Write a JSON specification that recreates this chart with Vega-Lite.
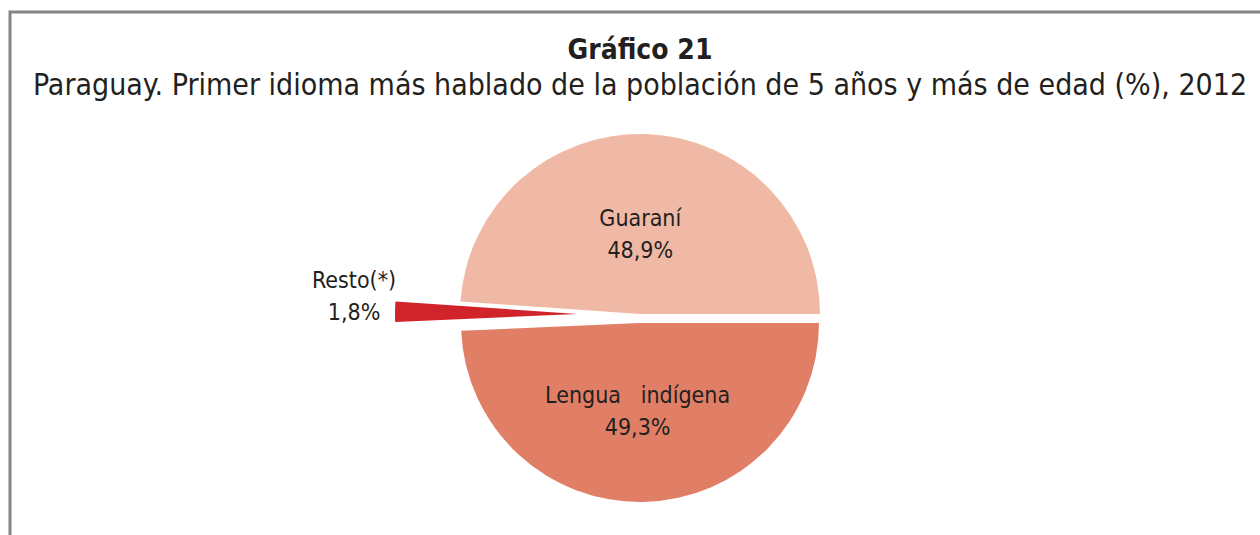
{
  "$schema": "https://vega.github.io/schema/vega-lite/v6.json",
  "autosize": "none",
  "width": 1260,
  "height": 612,
  "padding": {"left": 10, "top": 12, "right": 0, "bottom": 0},
  "background": "white",
  "view": {"stroke": "#858585", "strokeWidth": 3, "fill": "white"},
  "title": {
    "text": "Gráfico 21",
    "subtitle": "Paraguay. Primer idioma más hablado de la población de 5 años y más de edad (%), 2012",
    "anchor": "middle",
    "orient": "top",
    "frame": "group",
    "offset": -113,
    "font": "DejaVu Sans Condensed, DejaVu Sans",
    "fontSize": 28,
    "fontWeight": "bold",
    "color": "#231f20",
    "subtitleFont": "DejaVu Sans Condensed, DejaVu Sans",
    "subtitleFontSize": 30,
    "subtitleFontWeight": "normal",
    "subtitleColor": "#231f20",
    "subtitlePadding": 6
  },
  "config": {
    "view": {"stroke": "#858585", "strokeWidth": 3}
  },
  "data": {
    "values": [
      {"idioma": "Guaraní", "valor": 48.9, "etiqueta": "Guaraní\n48,9%"},
      {"idioma": "Lengua indígena", "valor": 49.3, "etiqueta": "Lengua\u00a0\u00a0 indígena\n49,3%"},
      {"idioma": "Resto(*)", "valor": 1.8, "etiqueta": "Resto(*)\n1,8%"}
    ]
  },
  "encoding": {
    "theta": {"field": "valor", "type": "quantitative", "stack": true, "scale": {"range": [-1.5017, 4.7815], "nice": false}},
    "order": {"field": "idioma", "type": "ordinal", "sort": "ascending"}
  },
  "layer": [
    {
      "mark": {"type": "arc", "outerRadius": 180, "yOffset": -4},
      "encoding": {
        "color": {"field": "idioma", "type": "nominal", "scale": {"domain": ["Guaraní", "Lengua indígena", "Resto(*)"], "range": ["#f0b9a5", "#e07f66", "#d1232a"]}, "legend": null},
        "opacity": {"condition": {"test": "datum.idioma === 'Guaraní'", "value": 1}, "value": 0}
      }
    },
    {
      "mark": {"type": "arc", "outerRadius": 179, "yOffset": 5},
      "encoding": {
        "color": {"field": "idioma", "type": "nominal", "legend": null},
        "opacity": {"condition": {"test": "datum.idioma === 'Lengua indígena'", "value": 1}, "value": 0}
      }
    },
    {
      "mark": {"type": "arc", "outerRadius": 182, "xOffset": -63, "yOffset": -4},
      "encoding": {
        "color": {"field": "idioma", "type": "nominal", "legend": null},
        "opacity": {"condition": {"test": "datum.idioma === 'Resto(*)'", "value": 1}, "value": 0}
      }
    },
    {
      "mark": {"type": "text", "radius": 95, "xOffset": -3, "yOffset": -4, "font": "DejaVu Sans Condensed, DejaVu Sans", "fontSize": 23, "lineBreak": "\n", "lineHeight": 32, "color": "#231f20", "align": "center", "baseline": "middle"},
      "encoding": {
        "detail": {"field": "idioma", "type": "nominal"},
        "text": {"field": "etiqueta", "type": "nominal"},
        "opacity": {"condition": {"test": "datum.idioma === 'Guaraní'", "value": 1}, "value": 0}
      }
    },
    {
      "mark": {"type": "text", "radius": 73, "xOffset": -4, "yOffset": 5, "font": "DejaVu Sans Condensed, DejaVu Sans", "fontSize": 23, "lineBreak": "\n", "lineHeight": 32, "color": "#231f20", "align": "center", "baseline": "middle"},
      "encoding": {
        "detail": {"field": "idioma", "type": "nominal"},
        "text": {"field": "etiqueta", "type": "nominal"},
        "opacity": {"condition": {"test": "datum.idioma === 'Lengua indígena'", "value": 1}, "value": 0}
      }
    },
    {
      "mark": {"type": "text", "radius": 286, "yOffset": -33, "font": "DejaVu Sans Condensed, DejaVu Sans", "fontSize": 23, "lineBreak": "\n", "lineHeight": 32, "color": "#231f20", "align": "center", "baseline": "middle"},
      "encoding": {
        "detail": {"field": "idioma", "type": "nominal"},
        "text": {"field": "etiqueta", "type": "nominal"},
        "opacity": {"condition": {"test": "datum.idioma === 'Resto(*)'", "value": 1}, "value": 0}
      }
    }
  ]
}
